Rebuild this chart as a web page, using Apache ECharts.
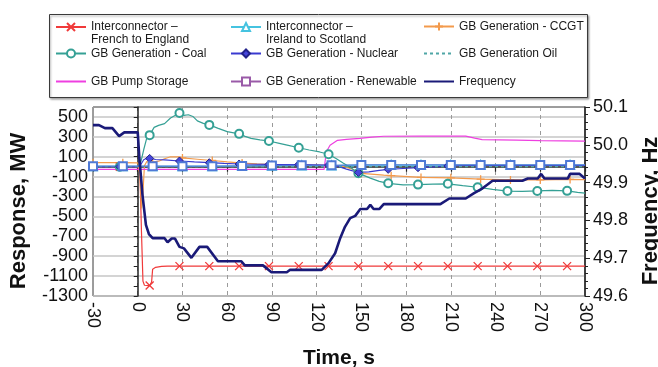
<!DOCTYPE html>
<html>
<head>
<meta charset="utf-8">
<script src="https://cdn.jsdelivr.net/npm/echarts@6/dist/echarts.min.js"></script>
<style>
  html, body { margin: 0; padding: 0; background: #fff; }
  #chart { width: 658px; height: 367px; }
</style>
</head>
<body>
<div id="chart"></div>
<script>
// ---- axes -------------------------------------------------------------
const timeTicks = [-30, 0, 30, 60, 90, 120, 150, 180, 210, 240, 270, 300];
const responseTicks = [-1300, -1100, -900, -700, -500, -300, -100, 100, 300, 500];
const responseRange = [-1300, 600];
const frequencyTicks = [49.6, 49.7, 49.8, 49.9, 50.0, 50.1];

// ---- series names -----------------------------------------------------
const nameFrench = 'Interconnector –\nFrench to England';
const nameIreland = 'Interconnector –\nIreland to Scotland';
const nameCcgt = 'GB Generation - CCGT';
const nameCoal = 'GB Generation - Coal';
const nameNuclear = 'GB Generation - Nuclear';
const nameOil = 'GB Generation Oil';
const namePump = 'GB Pump Storage';
const nameRenewable = 'GB Generation - Renewable';
const nameFrequency = 'Frequency';

// ---- times (s) at which markers are drawn ------------------------------
const markTimesA = [-12, 8, 28, 48, 68, 88, 108, 128, 148, 168, 188, 208, 228, 248, 268, 288];
const markTimesB = [-30, -10, 10, 30, 50, 70, 90, 110, 130, 150, 170, 190, 210, 230, 250, 270, 290];

// ---- response, MW : [time s, MW] --------------------------------------
const frenchToEngland = [
  [-30, 0], [-12, 0], [0, 0], [1.5, -60], [2.5, -650], [3.5, -1150], [4.5, -1192],
  [8, -1195], [9.3, -1160], [10, -1030], [12, -1012], [16, -1003], [20, -1000],
  [28, -1000], [48, -1000], [68, -1000], [88, -1000], [108, -1000], [128, -1000],
  [148, -1000], [168, -1000], [188, -1000], [208, -1000], [228, -1000], [248, -1000],
  [268, -1000], [288, -1000], [300, -1000]
];
const irelandToScotland = [
  [-30, 4], [-10, 4], [10, 4], [30, 4], [50, 4], [70, 7], [90, 10], [110, 12], [130, 12],
  [150, 16], [170, 16], [190, 16], [210, 16], [230, 16], [250, 16], [270, 16], [290, 16], [300, 16]
];
const ccgt = [
  [-30, 40], [-10, 40], [0, 38], [1.5, -80], [2.5, -420], [3.5, -260], [4.5, 10], [6, 50],
  [10, 45], [14, 55], [18, 80], [22, 100], [28, 98], [30, 88], [40, 75], [50, 62], [60, 48],
  [70, 36], [80, 28], [90, 22], [110, 18], [130, 14], [138, 2], [144, -25], [150, -68],
  [165, -85], [170, -90], [190, -108], [210, -112], [230, -126], [250, -133], [270, -133],
  [290, -128], [300, -130]
];
const coal = [
  [-30, 0], [-12, 0], [0, 0], [2, 40], [4, 170], [6, 285], [8, 317], [11, 395], [14, 415],
  [18, 433], [22, 490], [25, 515], [28, 540], [31, 515], [34, 522], [37, 505], [40, 460],
  [44, 435], [48, 420], [54, 385], [60, 352], [68, 330], [72, 305], [76, 285], [82, 270],
  [88, 258], [95, 235], [101, 215], [108, 190], [115, 168], [122, 148], [128, 125],
  [133, 82], [138, 35], [143, -10], [148, -65], [156, -115], [162, -148], [168, -167],
  [178, -182], [188, -180], [198, -176], [208, -172], [218, -190], [228, -207], [238, -228],
  [248, -245], [258, -248], [268, -244], [278, -238], [288, -243], [295, -258], [300, -266]
];
const nuclear = [
  [-30, 0], [-12, 0], [0, 0], [2, 20], [4, 70], [6, 85], [8, 83], [12, 72], [18, 68],
  [28, 57], [38, 48], [48, 40], [58, 33], [68, 27], [88, 23], [108, 22], [128, 17],
  [134, 5], [140, -25], [148, -58], [155, -52], [162, -38], [168, -27], [178, -18],
  [188, -10], [198, -2], [208, 7], [220, 12], [300, 12]
];
const oil = [[-30, 0], [300, 0]];
const pumpStorage = [
  [-30, -28], [125, -28], [126.5, 150], [129, 215], [134, 265], [140, 275], [149, 285],
  [157, 297], [165, 306], [190, 308], [220, 307], [226, 287], [231, 272], [254, 266],
  [270, 262], [300, 256]
];
const renewable = [
  [-30, 5], [-10, 5], [10, 5], [30, 5], [50, 5], [70, 8], [90, 12], [110, 14], [130, 14],
  [150, 18], [170, 18], [190, 18], [210, 18], [230, 18], [250, 18], [270, 18], [290, 18], [300, 18]
];

// ---- frequency, Hz : [time s, Hz] -------------------------------------
const frequency = [
  [-30, 50.052], [-26, 50.052], [-22, 50.044], [-17, 50.044], [-12.5, 50.023], [-9, 50.033],
  [0, 50.033], [1, 49.97], [3.2, 49.867], [5.5, 49.788], [7.5, 49.764], [10, 49.753],
  [18, 49.753], [20, 49.742], [22.8, 49.752], [25, 49.752], [28, 49.730], [31, 49.726],
  [36, 49.701], [41.4, 49.730], [46.6, 49.730], [53.8, 49.692], [69.5, 49.692], [71.8, 49.681],
  [84, 49.681], [89.7, 49.663], [100, 49.663], [102, 49.669], [123.4, 49.669], [128, 49.687],
  [132.4, 49.713], [135.8, 49.753], [139, 49.783], [142.5, 49.806], [145.9, 49.812],
  [149.3, 49.830], [153.8, 49.830], [156, 49.841], [158.2, 49.830], [162, 49.830],
  [165, 49.843], [203, 49.843], [209, 49.858], [220, 49.858], [225.6, 49.872], [231.3, 49.885],
  [238, 49.905], [258, 49.905], [261.6, 49.911], [268.3, 49.911], [270.6, 49.923],
  [272.8, 49.911], [288.5, 49.911], [290, 49.923], [296.4, 49.923], [300, 49.911]
];

// ---- styling ----------------------------------------------------------
const FONT = '"Liberation Sans", Arial, Helvetica, sans-serif';
const CROSS = 'path://M0,0L10,10M10,0L0,10';
const PLUS = 'path://M5,0L5,10M0,5L10,5';

function withMarkers(points, markTimes) {
  return points.map(p => markTimes.indexOf(p[0]) >= 0 ? p : { value: p, symbol: 'none' });
}

function lineSeries(name, data, color, extra) {
  return Object.assign({
    name: name,
    type: 'line',
    data: data,
    symbolSize: 8,
    lineStyle: { color: color, width: 1.2 },
    itemStyle: { color: color },
    animation: false,
    silent: true,
    emphasis: { disabled: true }
  }, extra || {});
}

const series = [
  lineSeries(nameFrench, withMarkers(frenchToEngland, markTimesA), '#f03a3a', {
    symbol: CROSS, symbolSize: 8,
    itemStyle: { color: '#f03a3a', borderColor: '#f03a3a', borderWidth: 1.3 }
  }),
  lineSeries(nameIreland, withMarkers(irelandToScotland, markTimesB), '#45c3e0', {
    symbol: 'emptyTriangle', itemStyle: { color: '#45c3e0', borderWidth: 1.2 }
  }),
  lineSeries(nameCcgt, withMarkers(ccgt, markTimesB), '#f39a4c', {
    symbol: PLUS, symbolSize: 8,
    itemStyle: { color: '#f39a4c', borderColor: '#f39a4c', borderWidth: 1.3 }
  }),
  lineSeries(nameCoal, withMarkers(coal, markTimesA), '#35a095', {
    symbol: 'emptyCircle', itemStyle: { color: '#35a095', borderWidth: 1.2 }
  }),
  lineSeries(nameNuclear, withMarkers(nuclear, markTimesA), '#3a3ad0', {
    symbol: 'diamond',
    itemStyle: { color: '#4646dc', borderColor: '#22228a', borderWidth: 1 }
  }),
  lineSeries(nameOil, oil, '#4fa6a6', {
    symbol: 'none', lineStyle: { color: '#4fa6a6', width: 1.2, type: [3, 3] }
  }),
  lineSeries(namePump, pumpStorage, '#ee3fe0', { symbol: 'none' }),
  lineSeries(nameRenewable, withMarkers(renewable, markTimesB), '#4f7ad6', {
    symbol: 'emptyRect', itemStyle: { color: '#4f7ad6', borderWidth: 1.3 }
  }),
  lineSeries(nameFrequency, frequency, '#1a1a78', {
    symbol: 'none', yAxisIndex: 1, z: 5,
    lineStyle: { color: '#1a1a78', width: 2.6 }
  })
];

// ---- legend: three columns by three rows inside a framed box -----------
const legendCols = [55, 230, 423];
const legendRows = [25, 52, 80];
const legendCells = [
  [nameFrench, 0, 0], [nameIreland, 1, 0], [nameCcgt, 2, 0],
  [nameCoal, 0, 1], [nameNuclear, 1, 1], [nameOil, 2, 1],
  [namePump, 0, 2], [nameRenewable, 1, 2], [nameFrequency, 2, 2]
];
const plainLegendIcon = { color: 'rgba(0,0,0,0)', borderColor: 'rgba(0,0,0,0)' };
const legendItemOverrides = {};
legendItemOverrides[nameOil] = { itemStyle: plainLegendIcon };
legendItemOverrides[namePump] = { itemStyle: plainLegendIcon };
legendItemOverrides[nameFrequency] = { itemStyle: plainLegendIcon };
legendItemOverrides[nameRenewable] = {
  itemStyle: { color: '#9a5aa8', borderColor: '#9a5aa8' },
  lineStyle: { color: '#9a5aa8' }
};

const legends = legendCells.map(([name, col, row]) => {
  const twoLine = name.indexOf('\n') >= 0;
  return {
    left: legendCols[col],
    // a two-line name gets a blank leading line so its first line sits level with the icon
    top: twoLine ? legendRows[row] - 17.5 : legendRows[row] - 5,
    padding: 0,
    itemWidth: 30,
    itemHeight: 10,
    selectedMode: false,
    data: [Object.assign({ name: name }, legendItemOverrides[name] || {})],
    formatter: twoLine ? (n => ' \n' + n) : '{name}',
    textStyle: {
      fontFamily: FONT, fontSize: 12, color: '#1a1a1a',
      lineHeight: 13
    }
  };
});

const chart = echarts.init(document.getElementById('chart'), null, { renderer: 'canvas' });

chart.setOption({
  backgroundColor: '#ffffff',
  animation: false,
  textStyle: { fontFamily: FONT },
  graphic: [{
    type: 'rect',
    z: 0,
    shape: { x: 49.5, y: 14.5, width: 538, height: 83 },
    style: {
      fill: '#ffffff', stroke: '#3a3a3a', lineWidth: 1,
      shadowColor: 'rgba(0,0,0,0.35)', shadowBlur: 2, shadowOffsetX: 1, shadowOffsetY: 1.5
    }
  }],
  legend: legends,
  grid: {
    left: 93, right: 73, top: 107, bottom: 71,
    containLabel: false,
    outerBoundsMode: 'none',
    show: true, borderColor: '#3a3a3a', borderWidth: 1
  },
  xAxis: {
    type: 'value',
    min: timeTicks[0],
    max: timeTicks[timeTicks.length - 1],
    interval: timeTicks[1] - timeTicks[0],
    name: 'Time, s',
    nameLocation: 'middle',
    nameGap: 52,
    nameTextStyle: { fontFamily: FONT, fontSize: 21, fontWeight: 'bold', color: '#111' },
    axisLine: { lineStyle: { color: '#222', width: 1.5 } },
    axisTick: { length: 5, lineStyle: { color: '#222', width: 1.2 } },
    axisLabel: {
      rotate: -90, margin: 6,
      fontFamily: FONT, fontSize: 18, color: '#111'
    },
    splitLine: { show: true, lineStyle: { color: '#9a9a9a', width: 1, type: [4, 4] } }
  },
  yAxis: [{
    type: 'value',
    min: responseRange[0],
    max: responseRange[1],
    interval: 100,
    name: 'Response, MW',
    nameLocation: 'middle',
    nameRotate: 90,
    nameGap: 63,
    nameTextStyle: {
      fontFamily: FONT, fontSize: 22, fontWeight: 'bold', color: '#111',
      padding: [0, 19, 0, 0]
    },
    axisLine: { show: true, lineStyle: { color: '#222', width: 1.5 } },
    axisTick: { show: true, length: 4, lineStyle: { color: '#222', width: 1 } },
    axisLabel: {
      margin: 5, fontFamily: FONT, fontSize: 18, color: '#111',
      formatter: v => responseTicks.indexOf(v) >= 0 ? String(v) : ''
    },
    splitLine: {
      show: true,
      lineStyle: { color: ['#c6c6c6', 'rgba(0,0,0,0)'], width: 1.6 }
    }
  }, {
    type: 'value',
    position: 'right',
    min: frequencyTicks[0],
    max: frequencyTicks[frequencyTicks.length - 1],
    interval: 0.1,
    name: 'Frequency, Hz',
    nameLocation: 'middle',
    nameRotate: 90,
    nameGap: 55,
    nameTextStyle: {
      fontFamily: FONT, fontSize: 22, fontWeight: 'bold', color: '#111',
      padding: [0, 19, 0, 0]
    },
    axisLine: { show: true, lineStyle: { color: '#222', width: 1.5 } },
    axisTick: { show: true, length: 5, lineStyle: { color: '#222', width: 1 } },
    minorTick: { show: true, splitNumber: 5, length: 3, lineStyle: { color: '#222', width: 1 } },
    axisLabel: {
      margin: 8, fontFamily: FONT, fontSize: 18, color: '#111',
      formatter: v => v.toFixed(1)
    },
    splitLine: { show: false }
  }],
  series: series
});
</script>
</body>
</html>
